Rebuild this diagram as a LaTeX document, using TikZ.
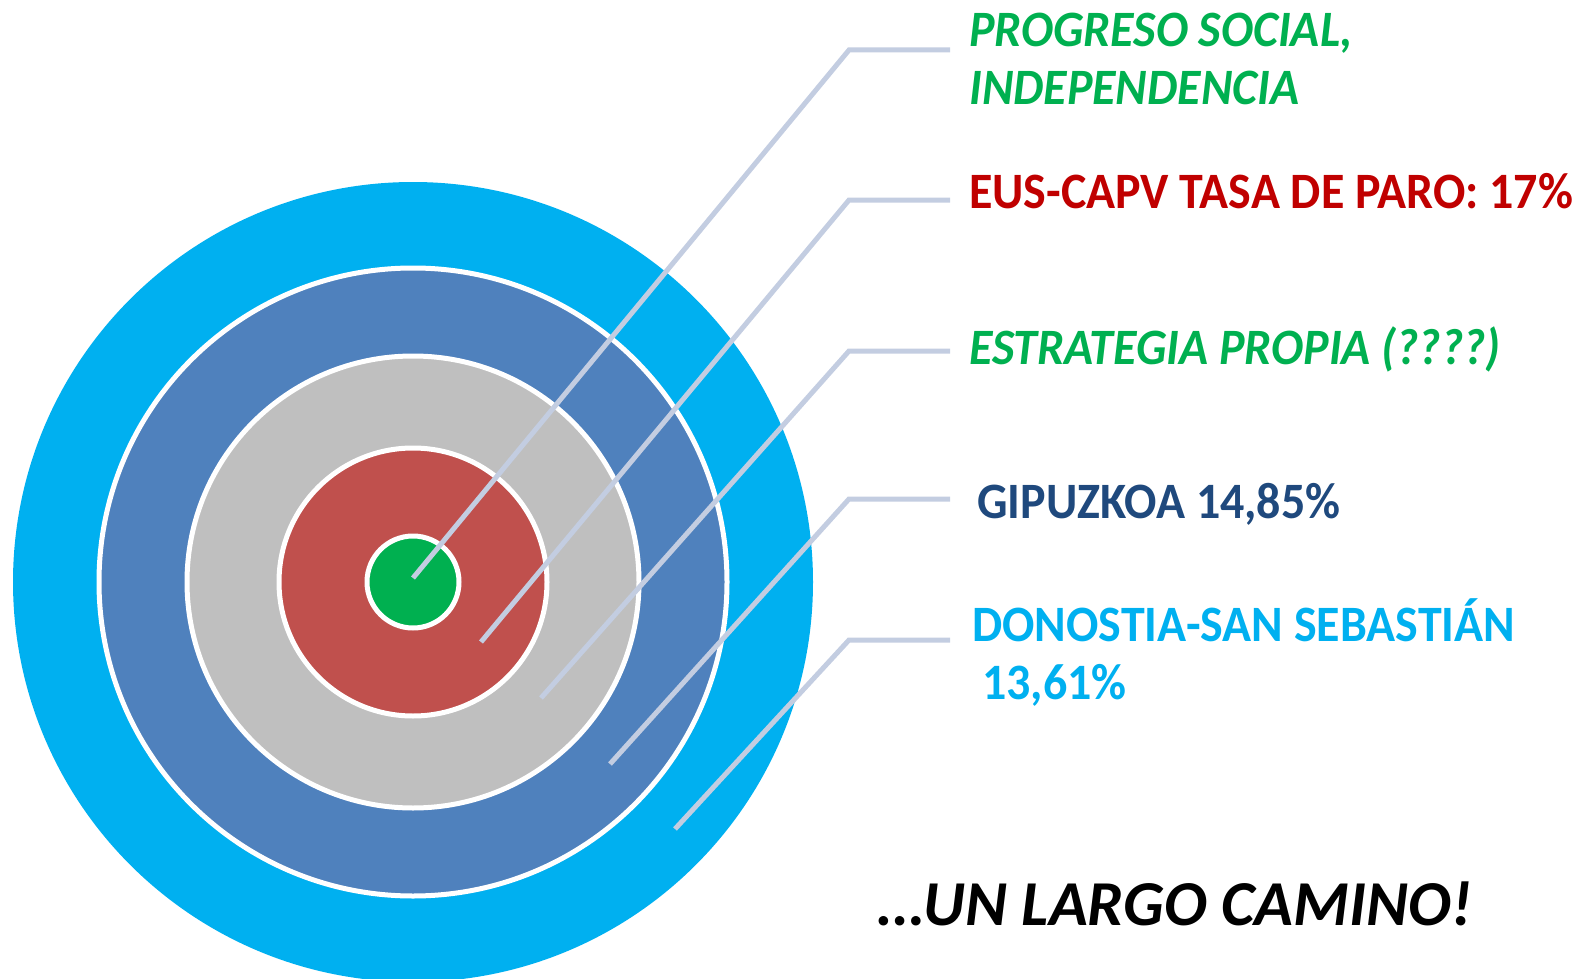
\documentclass[tikz,border=0pt]{standalone}
\usepackage{fontspec}
\setmainfont{Carlito}[FakeStretch=0.94]
\newfontfamily\closingfont{Carlito}
\usetikzlibrary{positioning}

\definecolor{skyring}{HTML}{00B0F0}
\definecolor{bluering}{HTML}{4F81BD}
\definecolor{grayring}{HTML}{BFBFBF}
\definecolor{redring}{HTML}{C0504D}
\definecolor{greenring}{HTML}{00B050}
\definecolor{leadgray}{RGB}{195,205,225}
\definecolor{redtext}{HTML}{C00000}
\definecolor{navytext}{HTML}{1F497D}

\begin{document}
\begin{tikzpicture}[x=1pt,y=-1pt,
    ring/.style={circle,draw=white,line width=5pt,inner sep=0pt},
    leader/.style={draw=leadgray,line width=5pt},
    label node/.style={anchor=base west,inner sep=0pt,font=\bfseries\fontsize{51}{58}\selectfont}]
                \useasboundingbox (0,0) rectangle (1580,979);

                % target
                \node[ring,draw=none,fill=skyring,minimum size=800pt] (5) at (413,582) {};
                \node[ring,fill=bluering,minimum size=628pt] (4) at (5.center) {};
                \node[ring,fill=grayring,minimum size=452pt] (3) at (5.center) {};
                \node[ring,fill=redring,minimum size=268pt] (2) at (5.center) {};
                \node[ring,fill=greenring,minimum size=92pt] (1) at (5.center) {};

                % leader ends
                \coordinate (e1) at (413,578);
                \coordinate (e2) at (481,642);
                \coordinate (e3) at (541,698);
                \coordinate (e4) at (610,764);
                \coordinate (e5) at (675,829);
                \coordinate (k1) at (849,50);
                \coordinate (k2) at (849,200);
                \coordinate (k3) at (849,351);
                \coordinate (k4) at (849,499);
                \coordinate (k5) at (849,640);
                \coordinate (h1) at (950,50);
                \coordinate (h2) at (950,200);
                \coordinate (h3) at (950,351);
                \coordinate (h4) at (950,499);
                \coordinate (h5) at (950,640);

                \draw[leader] (h1) -- (k1) -- (e1);
                \draw[leader] (h2) -- (k2) -- (e2);
                \draw[leader] (h3) -- (k3) -- (e3);
                \draw[leader] (h4) -- (k4) -- (e4);
                \draw[leader] (h5) -- (k5) -- (e5);

                % labels
                \node[label node,text=greenring,font=\bfseries\itshape\fontsize{51}{58}\selectfont] (t1) at (969,47) {PROGRESO SOCIAL,};
                \node[label node,text=greenring,font=\bfseries\itshape\fontsize{51}{58}\selectfont] (t1b) at (969,105) {INDEPENDENCIA};
                \node[label node,text=redtext] (t2) at (969,208) {EUS-CAPV TASA DE PARO: 17\%};
                \node[label node,text=greenring,font=\bfseries\itshape\fontsize{51}{58}\selectfont] (t3) at (969,364) {ESTRATEGIA PROPIA (????)};
                \node[label node,text=navytext] (t4) at (977,518) {GIPUZKOA 14,85\%};
                \node[label node,text=skyring] (t5) at (972,641) {DONOSTIA-SAN SEBASTIÁN};
                \node[label node,text=skyring] (t5b) at (982,699) {13,61\%};
                \node[label node,font=\closingfont\bfseries\itshape\fontsize{64}{70}\selectfont] (t6) at (878,925) {…UN LARGO CAMINO!};
\end{tikzpicture}
\end{document}
